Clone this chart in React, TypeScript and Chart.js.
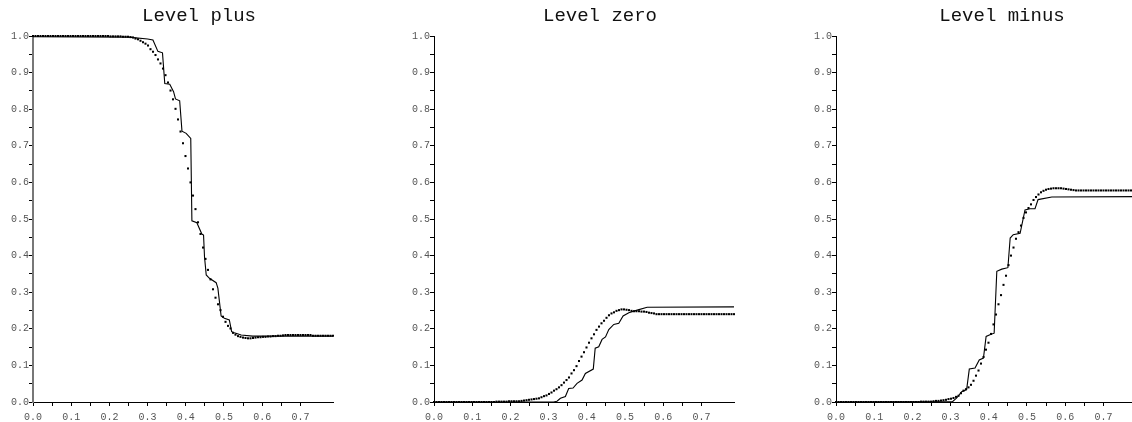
import React, { useEffect, useRef } from "react";
import { Chart, registerables } from "chart.js";

Chart.register(...registerables);

// x positions of the dotted series (shared by all three panels)
const DOT_X = [
  0, 0.0065, 0.0131, 0.0196, 0.0262, 0.0327, 0.0393, 0.0458, 0.0524, 0.0589,
  0.0654, 0.072, 0.0785, 0.0851, 0.0916, 0.0982, 0.1047, 0.1113, 0.1178, 0.1244,
  0.1309, 0.1374, 0.144, 0.1505, 0.1571, 0.1636, 0.1702, 0.1767, 0.1833, 0.1898,
  0.1963, 0.2029, 0.2094, 0.216, 0.2225, 0.2291, 0.2356, 0.2422, 0.2487, 0.2553,
  0.2618, 0.2683, 0.2749, 0.2814, 0.288, 0.2945, 0.3011, 0.3076, 0.3142, 0.3207,
  0.3272, 0.3338, 0.3403, 0.3469, 0.3534, 0.36, 0.3665, 0.3731, 0.3796, 0.3862,
  0.3927, 0.3992, 0.4058, 0.4123, 0.4189, 0.4254, 0.432, 0.4385, 0.4451, 0.4516,
  0.4581, 0.4647, 0.4712, 0.4778, 0.4843, 0.4909, 0.4974, 0.504, 0.5105, 0.5171,
  0.5236, 0.5301, 0.5367, 0.5432, 0.5498, 0.5563, 0.5629, 0.5694, 0.576, 0.5825,
  0.589, 0.5956, 0.6021, 0.6087, 0.6152, 0.6218, 0.6283, 0.6349, 0.6414, 0.648,
  0.6545, 0.661, 0.6676, 0.6741, 0.6807, 0.6872, 0.6938, 0.7003, 0.7069, 0.7134,
  0.7199, 0.7265, 0.733, 0.7396, 0.7461, 0.7527, 0.7592, 0.7658, 0.7723, 0.7789,
  0.7854,
];

const PLUS_DOTS = [
  1, 1, 1, 1, 1, 1, 1, 1, 1, 1,
  1, 1, 1, 1, 1, 1, 1, 1, 1, 1,
  1, 1, 1, 1, 1, 1, 1, 1, 1, 1,
  1, 0.999, 0.999, 0.999, 0.999, 0.999, 0.998, 0.998, 0.998, 0.997,
  0.996, 0.993, 0.991, 0.987, 0.983, 0.979, 0.974, 0.964, 0.957, 0.948,
  0.936, 0.925, 0.911, 0.893, 0.873, 0.851, 0.827, 0.801, 0.772, 0.739,
  0.707, 0.672, 0.638, 0.6, 0.564, 0.527, 0.491, 0.459, 0.422, 0.391,
  0.361, 0.335, 0.308, 0.285, 0.267, 0.251, 0.233, 0.219, 0.208, 0.201,
  0.189, 0.184, 0.18, 0.178, 0.176, 0.175, 0.174, 0.174, 0.175, 0.176,
  0.177, 0.177, 0.178, 0.178, 0.179, 0.179, 0.18, 0.18, 0.181, 0.181,
  0.182, 0.183, 0.183, 0.183, 0.183, 0.183, 0.183, 0.183, 0.183, 0.183,
  0.183, 0.183, 0.181, 0.181, 0.181, 0.181, 0.181, 0.181, 0.181, 0.181,
  0.181,
];

const ZERO_DOTS = [
  0, 0, 0, 0, 0, 0, 0, 0, 0, 0,
  0, 0, 0, 0, 0, 0, 0, 0, 0, 0,
  0, 0, 0, 0, 0, 0.001, 0.001, 0.001, 0.001, 0.001,
  0.002, 0.002, 0.002, 0.002, 0.002, 0.003, 0.004, 0.005, 0.006, 0.007,
  0.008, 0.009, 0.01, 0.013, 0.016, 0.018, 0.022, 0.026, 0.031, 0.035,
  0.04, 0.046, 0.053, 0.06, 0.067, 0.078, 0.087, 0.098, 0.112, 0.124,
  0.136, 0.149, 0.162, 0.174, 0.185, 0.197, 0.206, 0.215, 0.222, 0.23,
  0.237, 0.242, 0.245, 0.249, 0.251, 0.253, 0.253, 0.252, 0.251, 0.249,
  0.248, 0.248, 0.248, 0.247, 0.247, 0.246, 0.244, 0.243, 0.242, 0.24,
  0.24, 0.24, 0.24, 0.24, 0.24, 0.24, 0.24, 0.24, 0.24, 0.24,
  0.24, 0.24, 0.24, 0.24, 0.24, 0.24, 0.24, 0.24, 0.24, 0.24,
  0.24, 0.24, 0.24, 0.24, 0.24, 0.24, 0.24, 0.24, 0.24, 0.24,
  0.24,
];

const MINUS_DOTS = [
  0, 0, 0, 0, 0, 0, 0, 0, 0, 0,
  0, 0, 0, 0, 0, 0, 0, 0, 0, 0,
  0, 0, 0, 0, 0, 0, 0, 0, 0, 0,
  0, 0, 0, 0, 0.001, 0.001, 0.001, 0.001, 0.001, 0.002,
  0.003, 0.003, 0.004, 0.005, 0.006, 0.008, 0.009, 0.011, 0.014, 0.017,
  0.024, 0.031, 0.035, 0.04, 0.047, 0.058, 0.072, 0.086, 0.105, 0.123,
  0.143, 0.162, 0.186, 0.212, 0.239, 0.267, 0.292, 0.32, 0.345, 0.374,
  0.4, 0.422, 0.446, 0.464, 0.482, 0.503, 0.518, 0.53, 0.54, 0.552,
  0.56, 0.567, 0.573, 0.577, 0.58, 0.582, 0.583, 0.584, 0.584, 0.584,
  0.584, 0.583, 0.582, 0.581, 0.58, 0.579, 0.578, 0.578, 0.578, 0.578,
  0.578, 0.578, 0.578, 0.578, 0.578, 0.578, 0.578, 0.578, 0.578, 0.578,
  0.578, 0.578, 0.578, 0.578, 0.578, 0.578, 0.578, 0.578, 0.578, 0.578,
  0.578,
];

// solid lines
const PLUS_LINE_X = [
  0, 0.25, 0.3, 0.314, 0.327, 0.339, 0.345, 0.358, 0.368, 0.373, 0.384, 0.39,
  0.401, 0.413, 0.416, 0.429, 0.442, 0.4465, 0.449, 0.4535, 0.462, 0.4795,
  0.484, 0.4925, 0.501, 0.514, 0.52, 0.527, 0.545, 0.575, 0.7854,
];
const PLUS_LINE_Y = [
  0.998, 0.997, 0.992, 0.989, 0.958, 0.954, 0.87, 0.868, 0.848, 0.828, 0.823,
  0.74, 0.734, 0.72, 0.495, 0.49, 0.459, 0.456, 0.397, 0.347, 0.338, 0.326,
  0.311, 0.235, 0.229, 0.224, 0.192, 0.189, 0.183, 0.18, 0.18,
];

const ZERO_LINE_X = [
  0, 0.313, 0.322, 0.331, 0.344, 0.3526, 0.364, 0.3745, 0.3876, 0.3963, 0.417,
  0.422, 0.4313, 0.44, 0.449, 0.4576, 0.4707, 0.4838, 0.495, 0.51, 0.532,
  0.558, 0.7854,
];
const ZERO_LINE_Y = [
  0, 0, 0.002, 0.01, 0.015, 0.037, 0.038, 0.051, 0.06, 0.078, 0.09, 0.147,
  0.151, 0.171, 0.178, 0.198, 0.212, 0.215, 0.235, 0.244, 0.251, 0.259, 0.26,
];

const MINUS_LINE_X = [
  0, 0.305, 0.316, 0.329, 0.342, 0.349, 0.364, 0.375, 0.386, 0.393, 0.403,
  0.414, 0.421, 0.434, 0.45, 0.456, 0.464, 0.482, 0.4948, 0.508, 0.521, 0.529,
  0.565, 0.7854,
];
const MINUS_LINE_Y = [
  0, 0.001, 0.011, 0.028, 0.034, 0.09, 0.093, 0.115, 0.12, 0.179, 0.184, 0.188,
  0.357, 0.363, 0.367, 0.448, 0.457, 0.461, 0.525, 0.528, 0.528, 0.553, 0.56,
  0.561,
];

const TITLES = ["Level plus", "Level zero", "Level minus"];
const X_MAX = 0.7854;
const Y_MAX = 1;
const TICK_STEP = 0.05;

const MONO = "'Liberation Mono', 'DejaVu Sans Mono', monospace";

const isStep = (v: number) =>
  Math.abs(v / TICK_STEP - Math.round(v / TICK_STEP)) < 1e-6;
const isTenth = (v: number) => Math.abs(v * 10 - Math.round(v * 10)) < 1e-6;

type PanelProps = {
  title: string;
  lineX: number[];
  lineY: number[];
  dots: number[];
  left: number;
  yBorderColor: string;
  yBorderWidth: number;
};

function Panel({ title, lineX, lineY, dots, left, yBorderColor, yBorderWidth }: PanelProps) {
  const ref = useRef<HTMLCanvasElement | null>(null);

  useEffect(() => {
    if (!ref.current) return;
    const tickFont = { family: MONO, size: 10 };
    const titlePlugin = {
      id: "panelTitle",
      afterDraw(chart: any) {
        const ctx = chart.ctx;
        ctx.save();
        ctx.fillStyle = "#111";
        ctx.font = `19px ${MONO}`;
        ctx.textAlign = "center";
        ctx.textBaseline = "alphabetic";
        ctx.fillText(title, 199, 21);
        ctx.restore();
      },
    };
    const chart = new Chart(ref.current, {
      type: "scatter",
      data: {
        datasets: [
          {
            data: DOT_X.map((x, i) => ({ x, y: dots[i] })),
            showLine: false,
            pointStyle: "rect",
            pointRadius: 1.45,
            pointBorderWidth: 0,
            backgroundColor: "#000",
            borderColor: "#000",
            clip: 6,
          } as any,
          {
            data: lineX.map((x, i) => ({ x, y: lineY[i] })),
            showLine: true,
            pointRadius: 0,
            borderColor: "#000",
            borderWidth: 1.1,
            tension: 0,
            clip: 6,
          } as any,
        ],
      },
      plugins: [titlePlugin],
      options: {
        animation: false,
        responsive: false,
        events: [],
        layout: { padding: { left: 0, right: 68, top: 36, bottom: 0 } },
        plugins: {
          legend: { display: false },
          tooltip: { enabled: false },
          title: { display: false },
        },
        scales: {
          x: {
            type: "linear",
            min: 0,
            max: X_MAX,
            afterBuildTicks: (s: any) => {
              s.ticks = s.ticks.filter((t: any) => isStep(t.value));
            },
            afterFit: (s: any) => {
              s.height = 20;
            },
            ticks: {
              stepSize: TICK_STEP,
              autoSkip: false,
              maxRotation: 0,
              padding: 5,
              color: "#555",
              font: tickFont,
              callback: (v: any) => (isTenth(Number(v)) ? Number(v).toFixed(1) : ""),
            },
            grid: {
              drawOnChartArea: false,
              drawTicks: true,
              tickLength: 4,
              color: "#000",
              lineWidth: 1,
            },
            border: { display: true, color: "#000", width: 1 },
          },
          y: {
            type: "linear",
            min: 0,
            max: Y_MAX,
            afterBuildTicks: (s: any) => {
              s.ticks = s.ticks.filter((t: any) => isStep(t.value));
            },
            afterFit: (s: any) => {
              s.width = 33;
            },
            ticks: {
              stepSize: TICK_STEP,
              autoSkip: false,
              padding: 0,
              color: "#555",
              font: tickFont,
              callback: (v: any) => (isTenth(Number(v)) ? Number(v).toFixed(1) : ""),
            },
            grid: {
              drawOnChartArea: false,
              drawTicks: true,
              tickLength: 4,
              color: "#000",
              lineWidth: 1,
            },
            border: { display: true, color: yBorderColor, width: yBorderWidth },
          },
        },
      } as any,
    });
    return () => chart.destroy();
  }, []);

  return (
    <div style={{ position: "absolute", left, top: 0, width: 401, height: 422 }}>
      <canvas ref={ref} width={401} height={422} style={{ display: "block" }} />
    </div>
  );
}

export default function App() {
  return (
    <div
      style={{
        position: "absolute",
        left: 0,
        top: 0,
        width: 1132,
        height: 422,
        overflow: "hidden",
        background: "#fff",
      }}
    >
      <Panel title={TITLES[0]} lineX={PLUS_LINE_X} lineY={PLUS_LINE_Y} dots={PLUS_DOTS} left={0} yBorderColor="#777" yBorderWidth={2} />
      <Panel title={TITLES[1]} lineX={ZERO_LINE_X} lineY={ZERO_LINE_Y} dots={ZERO_DOTS} left={401} yBorderColor="#000" yBorderWidth={1} />
      <Panel title={TITLES[2]} lineX={MINUS_LINE_X} lineY={MINUS_LINE_Y} dots={MINUS_DOTS} left={803} yBorderColor="#000" yBorderWidth={1} />
    </div>
  );
}
